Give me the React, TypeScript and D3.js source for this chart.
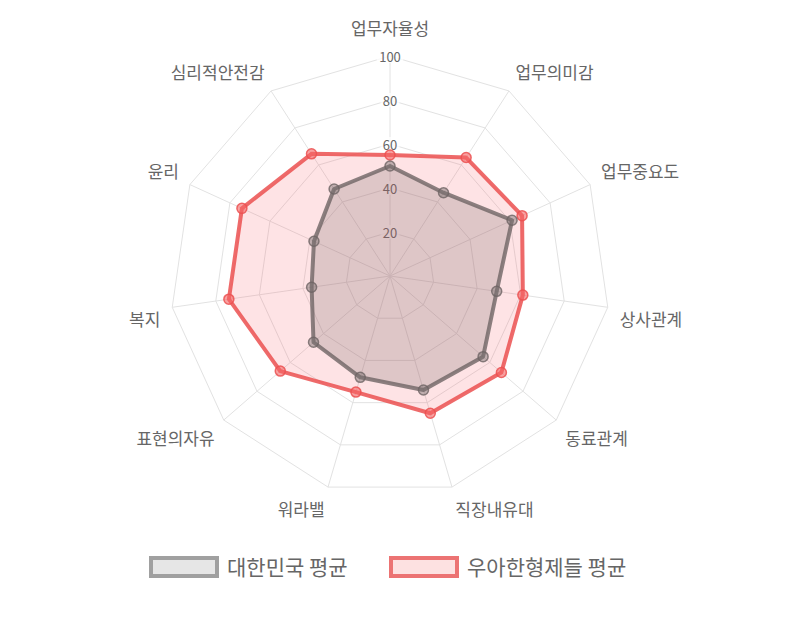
import React, { useEffect, useRef } from 'react';
import * as d3 from 'd3';

// axis labels (clockwise from top)
const labels = [
  '업무자율성',
  '업무의미감',
  '업무중요도',
  '상사관계',
  '동료관계',
  '직장내유대',
  '워라밸',
  '표현의자유',
  '복지',
  '윤리',
  '심리적안전감',
];

const koreaAvg = [50, 45, 61, 49, 56, 54, 48, 46, 36, 38, 47];
const woowaAvg = [55, 64, 66, 61, 67, 65, 55, 66, 74, 74, 66];

const tickValues = [20, 40, 60, 80, 100];

const seriesNames = ['대한민국 평균', '우아한형제들 평균'];

const FONT = "'Noto Sans CJK KR', 'Noto Sans', sans-serif";

export default function App() {
  const ref = useRef<SVGSVGElement>(null);

  useEffect(() => {
    const svg = d3.select(ref.current);
    svg.selectAll('*').remove();

    const cx = 390;
    const cy = 276;
    const R = 220;
    const n = labels.length;

    const r = d3.scaleLinear().domain([0, 100]).range([0, R]);
    const angle = (i: number) => (i * 2 * Math.PI) / n;
    const pt = (i: number, dist: number): [number, number] => [
      cx + dist * Math.sin(angle(i)),
      cy - dist * Math.cos(angle(i)),
    ];

    const g = svg.append('g');

    // grid polygons
    tickValues.forEach((t) => {
      const pts = d3.range(n).map((i) => pt(i, r(t)));
      g.append('path')
        .attr('d', d3.line()(pts) + 'Z')
        .attr('fill', 'none')
        .attr('stroke', '#e2e2e2')
        .attr('stroke-width', 1);
    });

    // angle lines
    d3.range(n).forEach((i) => {
      const [x, y] = pt(i, R);
      g.append('line')
        .attr('x1', cx)
        .attr('y1', cy)
        .attr('x2', x)
        .attr('y2', y)
        .attr('stroke', '#e2e2e2')
        .attr('stroke-width', 1);
    });

    // tick labels with backdrop
    tickValues.forEach((t) => {
      const y = cy - r(t);
      const w = String(t).length * 7.5 + 4;
      g.append('rect')
        .attr('x', cx - w / 2)
        .attr('y', y - 7)
        .attr('width', w)
        .attr('height', 14)
        .attr('fill', '#fff')
        .attr('opacity', 0.75);
      g.append('text')
        .attr('x', cx)
        .attr('y', y)
        .attr('text-anchor', 'middle')
        .attr('dominant-baseline', 'central')
        .attr('font-family', FONT)
        .attr('font-size', 13)
        .attr('fill', '#666')
        .text(t);
    });

    // point labels
    labels.forEach((lab, i) => {
      const deg = (i * 360) / n;
      const extra = i === 0 ? 7 : 0;
      const [x, y] = pt(i, R + 12 + extra);
      let anchor = 'start';
      if (deg === 0 || deg === 180) anchor = 'middle';
      else if (deg > 180) anchor = 'end';
      const size = 17;
      let baseY = y;
      if (deg > 270 || deg < 90) baseY = y - size / 2 - 1;
      else baseY = y + size / 2 + 1;
      g.append('text')
        .attr('x', x)
        .attr('y', baseY)
        .attr('text-anchor', anchor)
        .attr('dominant-baseline', 'central')
        .attr('font-family', FONT)
        .attr('font-size', size)
        .attr('fill', '#666')
        .text(lab);
    });

    const series = [
      {
        values: woowaAvg,
        stroke: 'rgba(235, 80, 80, 0.85)',
        fill: 'rgba(250, 90, 100, 0.17)',
        pointFill: 'rgba(245, 100, 100, 0.6)',
      },
      {
        values: koreaAvg,
        stroke: 'rgba(110, 100, 100, 0.8)',
        fill: 'rgba(110, 95, 95, 0.22)',
        pointFill: 'rgba(120, 110, 110, 0.45)',
      },
    ];

    series.forEach((s) => {
      const pts = s.values.map((v, i) => pt(i, r(v)));
      g.append('path')
        .attr('d', d3.line()(pts) + 'Z')
        .attr('fill', s.fill)
        .attr('stroke', s.stroke)
        .attr('stroke-width', 4)
        .attr('stroke-linejoin', 'round');
      g.selectAll(null)
        .data(pts)
        .enter()
        .append('circle')
        .attr('cx', (d) => d[0])
        .attr('cy', (d) => d[1])
        .attr('r', 5)
        .attr('fill', s.pointFill)
        .attr('stroke', s.stroke)
        .attr('stroke-width', 1.5);
    });

    // legend
    const legend = [
      { name: seriesNames[0], x: 151, stroke: '#a0a0a0', fill: '#e6e6e6' },
      { name: seriesNames[1], x: 391, stroke: '#ec7373', fill: '#fde1e1' },
    ];
    legend.forEach((l) => {
      svg
        .append('rect')
        .attr('x', l.x)
        .attr('y', 558)
        .attr('width', 66)
        .attr('height', 18)
        .attr('fill', l.fill)
        .attr('stroke', l.stroke)
        .attr('stroke-width', 4);
      svg
        .append('text')
        .attr('x', l.x + 76)
        .attr('y', 566)
        .attr('dominant-baseline', 'central')
        .attr('font-family', FONT)
        .attr('font-size', 21)
        .attr('fill', '#666')
        .text(l.name);
    });
  }, []);

  return (
    <svg
      ref={ref}
      width={800}
      height={629}
      style={{ position: 'absolute', left: 0, top: 0, background: '#fff' }}
    />
  );
}
